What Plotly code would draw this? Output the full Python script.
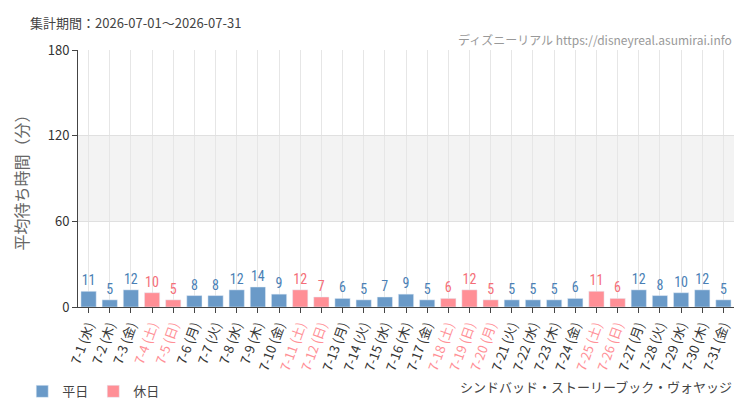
import plotly.graph_objects as go

dates = [f"7-{d}" for d in range(1, 32)]
weekdays = ["水","木","金","土","日","月","火"]
wd = [weekdays[i % 7] for i in range(31)]
values = [11,5,12,10,5,8,8,12,14,9,12,7,6,5,7,9,5,6,12,5,5,5,5,6,11,6,12,8,10,12,5]
holidays = {"7-4","7-5","7-11","7-12","7-18","7-19","7-20","7-25","7-26"}

BLUE = "#6a9ac8"; RED = "#ff8f96"; BLUE_T = "#4a7fb5"; RED_T = "#f46e78"

fig = go.Figure()
for name, isH, col, tcol in [("平日", False, BLUE, BLUE_T), ("休日", True, RED, RED_T)]:
    xs = [d for d in dates if (d in holidays) == isH]
    ys = [v for d, v in zip(dates, values) if (d in holidays) == isH]
    fig.add_trace(go.Bar(x=xs, y=ys, name=name, marker_color=col, text=ys,
                         textposition="outside", cliponaxis=False,
                         textfont=dict(color=tcol, size=14, family="Roboto Condensed, Roboto"),
                         width=0.72))

ticktext = []
for d, w in zip(dates, wd):
    c = RED if d in holidays else "#333"
    ticktext.append(f'<span style="color:{c}">{d} ({w})</span>')

fig.add_hrect(y0=60, y1=120, fillcolor="#f3f3f3", line_width=0, layer="below")
fig.update_layout(
    width=750, height=410, margin=dict(l=70, r=24, t=42, b=105),
    plot_bgcolor="white", paper_bgcolor="white", barmode="overlay", bargap=0.28,
    font=dict(family="Noto Sans CJK JP", color="#444", size=13),
    showlegend=True,
    legend=dict(orientation="h", x=-0.085, y=-0.27, xanchor="left", yanchor="top",
                font=dict(size=13)),
    xaxis=dict(type="category", categoryorder="array", categoryarray=dates,
               tickvals=dates, ticktext=ticktext, tickangle=-70, showgrid=True,
               gridcolor="#e6e6e6", linecolor="#444", ticks="outside", tickcolor="#444",
               tickfont=dict(size=13)),
    yaxis=dict(range=[0, 180], tickvals=[0, 60, 120, 180], gridcolor="#e0e0e0",
               title=dict(text="平均待ち時間（分）", font=dict(size=16, color="#666")),
               linecolor="#444", ticks="outside", tickcolor="#444", zeroline=False,
               tickfont=dict(size=13, color="#333")),
    annotations=[
        dict(text="集計期間：2026-07-01～2026-07-31", x=0, y=1, xref="paper", yref="paper",
             xanchor="left", yanchor="bottom", xshift=-50, yshift=16, showarrow=False,
             font=dict(size=13, color="#444")),
        dict(text="ディズニーリアル https://disneyreal.asumirai.info", x=1, y=1, xref="paper",
             yref="paper", xanchor="right", yanchor="bottom", yshift=0, showarrow=False,
             font=dict(size=12, color="#999")),
        dict(text="シンドバッド・ストーリーブック・ヴォヤッジ", x=1, y=0, xref="paper", yref="paper",
             xanchor="right", yanchor="top", yshift=-68, showarrow=False,
             font=dict(size=13, color="#444")),
    ],
)
fig.write_html("out.html")
